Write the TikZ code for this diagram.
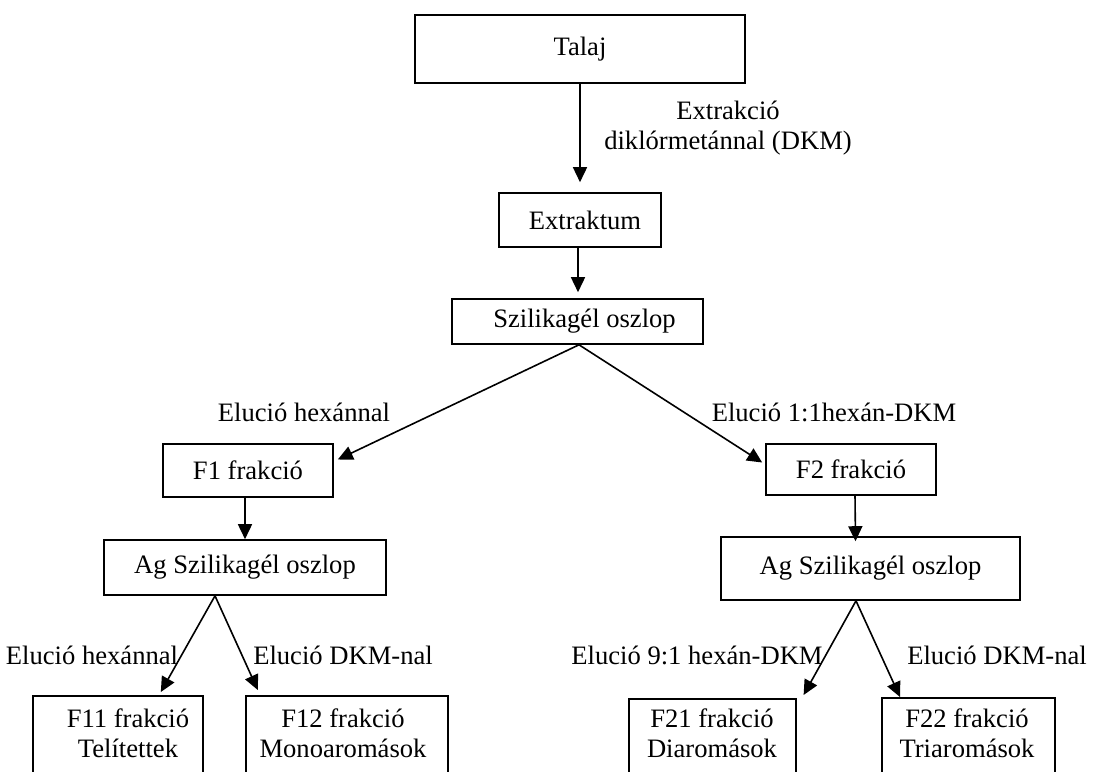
\documentclass[tikz,border=0pt]{standalone}
\usepackage{fontspec}
\setmainfont{Liberation Serif}
\usetikzlibrary{arrows.meta,calc}
\begin{document}
\begin{tikzpicture}[x=0.5pt,y=-0.5pt,
  font=\fontsize{13.3pt}{15pt}\selectfont,
  box/.style={draw,line width=0.8pt,inner sep=0pt},
  lbl/.style={inner sep=0pt,align=center},
  arr/.style={line width=0.8pt,-{Triangle[length=7.5pt,width=7pt]}}]
\useasboundingbox (0,0) rectangle (1095,771);
\clip (0,0) rectangle (1095,771);
% boxes
\node[box,minimum width=165pt,minimum height=34pt] (talaj) at (580,49) {Talaj};
\node[box,minimum width=81pt,minimum height=27pt] (ext) at (580,220) {\hspace*{5pt}Extraktum};
\node[box,minimum width=125.5pt,minimum height=22.5pt] (szil) at (577.5,321.5) {\hspace*{7pt}Szilikagél oszlop};
\node[box,minimum width=85pt,minimum height=26.5pt] (f1) at (248,470.5) {F1 frakció};
\node[box,minimum width=85pt,minimum height=25.5pt] (f2) at (851,469.5) {F2 frakció};
\node[box,minimum width=141pt,minimum height=27.5pt] (agl) at (245,567.5) {Ag Szilikagél oszlop};
\node[box,minimum width=149.5pt,minimum height=31.5pt] (agr) at (870.5,568.5) {Ag Szilikagél oszlop};
\node[box,anchor=north west,minimum width=85pt,minimum height=60pt] (f11box) at (32,695) {};
\node[box,anchor=north west,minimum width=101pt,minimum height=60pt] (f12box) at (245,695) {};
\node[box,anchor=north west,minimum width=83.5pt,minimum height=60pt] (f21box) at (628,698) {};
\node[box,anchor=north west,minimum width=86.5pt,minimum height=60pt] (f22box) at (881,697) {};
\node[lbl] (f11) at (128,733) {F11 frakció\\Telítettek};
\node[lbl] (f12) at (343,733) {F12 frakció\\Monoaromások};
\node[lbl] (f21) at (712,733) {F21 frakció\\Diaromások};
\node[lbl] (f22) at (967,733) {F22 frakció\\Triaromások};
% labels
\node[lbl] (lext) at (728,128) {Extrakció\\diklórmetánnal (DKM)};
\node[lbl] (l1) at (304,412) {Elució hexánnal};
\node[lbl] (l2) at (834,412) {Elució 1:1hexán-DKM};
\node[lbl] (l3) at (92,655) {Elució hexánnal};
\node[lbl] (l4) at (343,655) {Elució DKM-nal};
\node[lbl] (l5) at (697,655) {Elució 9:1 hexán-DKM};
\node[lbl] (l6) at (997,655) {Elució DKM-nal};
% connectors
\draw[arr] (talaj.south) -- ($(ext.north)+(0,-10)$);
\draw[arr] ($(ext.south)+(-2,0)$) -- ($(szil.north)+(0.5,-6)$);
\draw[arr] ($(szil.south)+(1.5,0)$) -- ($(f1.east)+(4,-11)$);
\draw[arr] ($(szil.south)+(1.5,0)$) -- ($(f2.west)+(-3,-7)$);
\draw[arr] ($(f1.south)+(-3,0)$) -- (agl.north);
\draw[arr] ($(f2.south)+(4,0)$) -- ($(agr.north)+(-15,5)$);
\draw[arr] ($(agl.south)+(-30,0)$) -- ($(f11box.north)+(43,-3)$);
\draw[arr] ($(agl.south)+(-30,0)$) -- ($(f12box.north)+(-89,-5)$);
\draw[arr] ($(agr.south)+(-14.5,0)$) -- ($(f21box.north east)+(7,-3)$);
\draw[arr] ($(agr.south)+(-14.5,0)$) -- ($(f22box.north west)+(19,0)$);
\end{tikzpicture}
\end{document}
